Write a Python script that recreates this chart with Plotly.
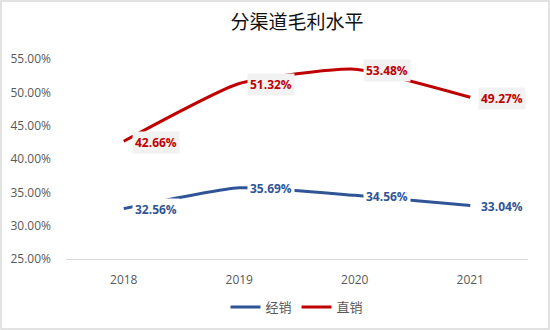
import plotly.graph_objects as go

# Gross margin by sales channel (%)
years = ["2018", "2019", "2020", "2021"]
distribution = [32.56, 35.69, 34.56, 33.04]   # 经销
direct = [42.66, 51.32, 53.48, 49.27]         # 直销
y_ticks = [25, 30, 35, 40, 45, 50, 55]

BLUE = "#2F5597"
RED = "#C00000"
W, H = 550, 330
ML, MR, MT, MB = 66, 22, 59, 71

fig = go.Figure()
fig.add_trace(go.Scatter(x=years, y=distribution, name="经销", mode="lines",
                         line=dict(color=BLUE, width=3, shape="spline", smoothing=0.5)))
fig.add_trace(go.Scatter(x=years, y=direct, name="直销", mode="lines",
                         line=dict(color=RED, width=3, shape="spline", smoothing=0.5)))

# value labels with background boxes, placed right of each point
for vals, col in ((distribution, BLUE), (direct, RED)):
    for i, v in enumerate(vals):
        fig.add_annotation(x=i, y=v, xref="x", yref="y", text=f"{v:.2f}%",
                           showarrow=False, xanchor="left", yanchor="middle",
                           xshift=8, yshift=-1,
                           bgcolor="#F2F2F2" if col == RED else "white",
                           borderpad=2,
                           font=dict(family="Open Sans", size=12, color=col, weight="bold"))

pw = W - ML - MR
ph = H - MT - MB
fig.add_shape(type="rect", xref="paper", yref="paper",
              x0=(1 - ML) / pw, x1=1 + (MR - 1) / pw,
              y0=-(MB - 1) / ph, y1=1 + (MT - 1) / ph,
              line=dict(color="#D9D9D9", width=1.5), layer="below")

fig.update_layout(
    width=W, height=H,
    margin=dict(l=ML, r=MR, t=MT, b=MB, autoexpand=False),
    paper_bgcolor="white", plot_bgcolor="white",
    title=dict(text="分渠道毛利水平", x=0.5, xref="paper", y=1 - 22 / H, yanchor="middle",
               font=dict(family="Noto Sans CJK SC", size=19, color="#111111")),
    xaxis=dict(type="category", range=[-0.5, 3.5], showgrid=False, showline=True,
               linecolor="#D9D9D9", linewidth=1, ticks="", ticklabelstandoff=10,
               automargin=False,
               tickfont=dict(family="Open Sans", size=12, color="#595959")),
    yaxis=dict(range=[25, 55], tickvals=y_ticks,
               ticktext=[f"{t:.2f}%" for t in y_ticks],
               showgrid=False, zeroline=False, showline=False, ticks="",
               ticklabelstandoff=14, automargin=False,
               tickfont=dict(family="Open Sans", size=12, color="#595959")),
    legend=dict(orientation="h", x=0.5, xanchor="center",
                yref="container", y=(H - 307) / H, yanchor="middle",
                font=dict(family="Noto Sans CJK SC", size=13, color="#595959")),
    showlegend=True,
)

fig.write_html("out.html")
